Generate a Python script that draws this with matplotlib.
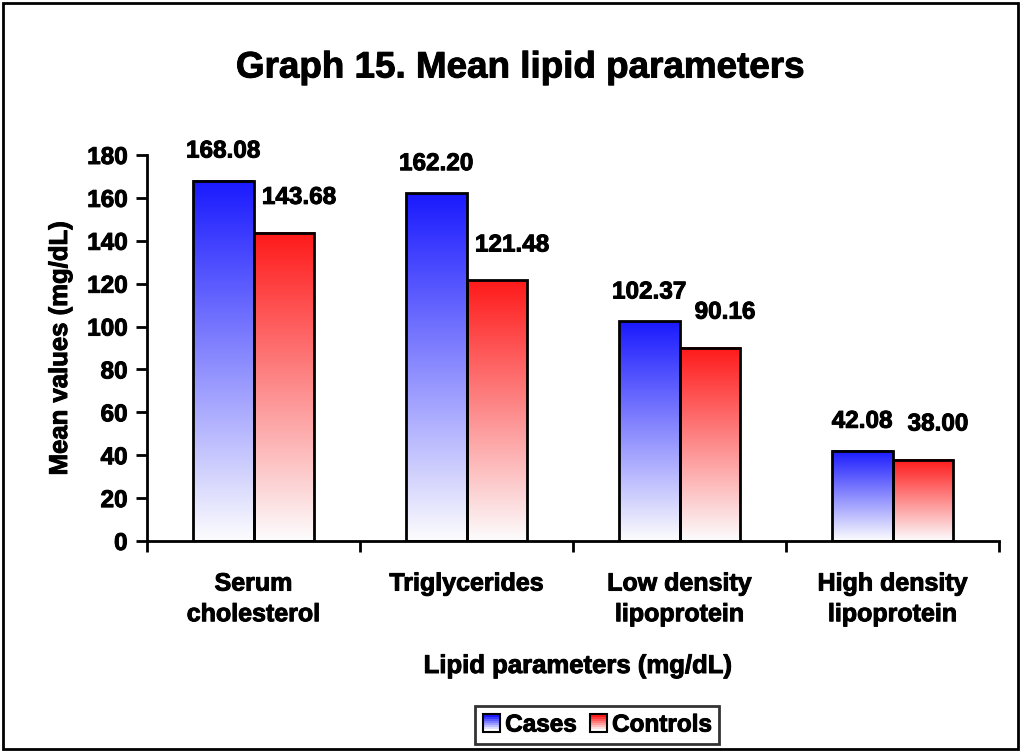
import numpy as np
import matplotlib
matplotlib.use('Agg')
import matplotlib.pyplot as plt
import matplotlib.patheffects as pe
from matplotlib.patches import Rectangle
from matplotlib.legend_handler import HandlerBase

plt.rcParams['font.family'] = ['Liberation Sans', 'DejaVu Sans']
plt.rcParams['font.weight'] = 'bold'

categories = ['Serum\ncholesterol', 'Triglycerides', 'Low density\nlipoprotein', 'High density\nlipoprotein']
cases = [168.08, 162.20, 102.37, 42.08]
controls = [143.68, 121.48, 90.16, 38.00]
yticks = [0, 20, 40, 60, 80, 100, 120, 140, 160, 180]

blue_top = np.array([0.10, 0.10, 1.0])
red_top = np.array([1.0, 0.10, 0.10])

# a thin stroke makes the bold text look closer to the heavy Excel rendering
heavy = [pe.withStroke(linewidth=0.7, foreground='black')]


def gradient(top, n=256):
    t = np.linspace(0, 1, n)[:, None]          # 0 = top, 1 = bottom
    white = np.array([0.99, 0.99, 0.995])
    return (top[None, :] * (1 - t) + white[None, :] * t)[:, None, :]


class GradHandler(HandlerBase):
    def __init__(self, top):
        super().__init__()
        self.top = top

    def create_artists(self, legend, orig, xd, yd, w, h, fs, trans):
        s = min(w, h)
        x0 = xd + (w - s) / 2
        arts = []
        n = 8
        for k in range(n):
            f = k / (n - 1)
            c = self.top * (1 - f) + np.array([1, 1, 1]) * f
            arts.append(Rectangle((x0, yd + h - (k + 1) * s / n), s, s / n, facecolor=c,
                                  edgecolor='none', transform=trans))
        arts.append(Rectangle((x0, yd), s, s, facecolor='none', edgecolor='black',
                              lw=1.5, transform=trans))
        return arts


fig = plt.figure(figsize=(10.21, 7.51), dpi=100)
ax = fig.add_axes([147 / 1021, 1 - 541 / 751, (999 - 147) / 1021, (541 - 155) / 751])

w = 1 / 3.5
x = np.arange(len(categories))
for i in x:
    for val, off, top in ((cases[i], -w / 2, blue_top), (controls[i], w / 2, red_top)):
        x0 = i + off - w / 2
        ax.imshow(gradient(top), extent=(x0, x0 + w, 0, val), aspect='auto', zorder=2,
                  interpolation='bilinear')
        ax.add_patch(Rectangle((x0, 0), w, val, facecolor='none', edgecolor='black',
                               lw=2, zorder=3))
    ax.annotate(f'{cases[i]:.2f}', (i - w / 2, cases[i]), xytext=(0, 18),
                textcoords='offset pixels', ha='center', va='bottom', fontsize=17.5,
                path_effects=heavy)
    ax.annotate(f'{controls[i]:.2f}', (i + w / 2, controls[i]), xytext=(15, 24),
                textcoords='offset pixels', ha='center', va='bottom', fontsize=17.5,
                path_effects=heavy)

ax.set_xlim(-0.5, len(categories) - 0.5)
ax.set_ylim(0, 180)
ax.set_yticks(yticks)
ax.set_xticks(x)
ax.set_xticklabels(categories, fontsize=18, linespacing=1.35)
ax.set_xticks(np.arange(len(categories) + 1) - 0.5, minor=True)
ax.tick_params(axis='x', which='major', length=0, pad=22)
ax.tick_params(axis='x', which='minor', length=8, width=2, direction='out')
ax.tick_params(axis='y', length=8, width=2, direction='out', labelsize=17.5, pad=6)
for lab in ax.get_yticklabels() + ax.get_xticklabels():
    lab.set_fontweight('bold')
    lab.set_path_effects(heavy)
for side in ('top', 'right'):
    ax.spines[side].set_visible(False)
for side in ('left', 'bottom'):
    ax.spines[side].set_linewidth(2)
ax.spines['bottom'].set_zorder(4)

fig.text(520 / 1021, 1 - 68 / 751, 'Graph 15. Mean lipid parameters', ha='center',
         va='center', fontsize=26.5, fontweight='bold', path_effects=heavy)
fig.text(60 / 1021, 1 - 348 / 751, 'Mean values (mg/dL)', rotation=90, ha='center',
         va='center', fontsize=18.5, fontweight='bold', path_effects=heavy)
fig.text(578 / 1021, 1 - 666 / 751, 'Lipid parameters (mg/dL)', ha='center', va='center',
         fontsize=18.5, fontweight='bold', path_effects=heavy)

h1 = Rectangle((0, 0), 1, 1)
h2 = Rectangle((0, 0), 1, 1)
leg = fig.legend([h1, h2], ['Cases', 'Controls'], loc='center',
                 bbox_to_anchor=(597 / 1021, 1 - 725 / 751), ncol=2, frameon=True,
                 fancybox=False, edgecolor='black', handlelength=0.8, handletextpad=0.15,
                 columnspacing=0.5, borderpad=0.3, prop={'size': 17.5, 'weight': 'bold'},
                 handler_map={h1: GradHandler(blue_top), h2: GradHandler(red_top)})
leg.get_frame().set_linewidth(2)
for t in leg.get_texts():
    t.set_path_effects(heavy)

fig.patches.append(Rectangle((3 / 1021, 2 / 751), 1 - 6 / 1021, 1 - 5 / 751,
                             transform=fig.transFigure, facecolor='none',
                             edgecolor='black', lw=2))

fig.savefig('out.png', dpi=100)
